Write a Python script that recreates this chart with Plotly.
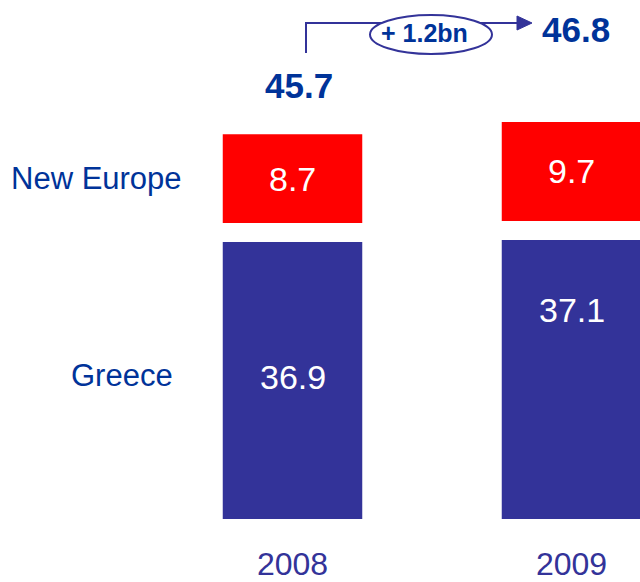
import plotly.graph_objects as go

# ---- data ----
years = ["2008", "2009"]
greece = [36.9, 37.1]
new_europe = [8.7, 9.7]
totals = [45.7, 46.8]
change_label = "+ 1.2bn"
series_names = ["Greece", "New Europe"]

# ---- style constants ----
W, H = 640, 582
PLOT_BOTTOM = 519          # pixel of plot-area bottom
Y_MIN, PX_PER_UNIT = 9.74, 10.2
Y_MAX = Y_MIN + PLOT_BOTTOM / PX_PER_UNIT
GAP = 19 / PX_PER_UNIT     # white gap between segments (data units)
BLUE = "#333399"
RED = "#FF0000"
TXT = "#003399"
FONT = "Arial, Liberation Sans, sans-serif"

X_PX0, X_PX_PER_CAT = 292.5, 279.0
x_range = [-X_PX0 / X_PX_PER_CAT, (W - X_PX0) / X_PX_PER_CAT]


def py(p):
    """pixel y -> paper y"""
    return (PLOT_BOTTOM - p) / PLOT_BOTTOM


def px(p):
    return p / W


fig = go.Figure()
fig.add_trace(go.Bar(x=years, y=greece, name=series_names[0],
                     marker=dict(color=BLUE, line=dict(width=0)), width=0.5))
fig.add_trace(go.Bar(x=years, y=new_europe, name=series_names[1],
                     base=[g + GAP for g in greece],
                     marker=dict(color=RED, line=dict(width=0)), width=0.5))

C = dict(xanchor="center", yanchor="middle", showarrow=False)
annotations = []
# value labels (x given as category index)
for i in range(len(years)):
    annotations.append(dict(x=i, xref="x", y=greece[i] + GAP + new_europe[i] / 2,
                            yref="y", text=f"{new_europe[i]}",
                            font=dict(family=FONT, size=34, color="white"), **C))
annotations.append(dict(x=0, xref="x", y=(Y_MIN + greece[0]) / 2, yref="y",
                        yshift=3, text=f"{greece[0]}",
                        font=dict(family=FONT, size=34, color="white"), **C))
annotations.append(dict(x=1, xref="x", y=greece[1], yref="y", yshift=-70,
                        text=f"{greece[1]}",
                        font=dict(family=FONT, size=34, color="white"), **C))
# series labels on the left
annotations.append(dict(x=px(9), xref="paper", xanchor="left", yanchor="middle",
                        y=greece[0] + GAP + new_europe[0] / 2, yref="y",
                        text=series_names[1], showarrow=False,
                        font=dict(family=FONT, size=31, color=TXT)))
annotations.append(dict(x=px(69), xref="paper", xanchor="left", yanchor="middle",
                        y=py(375), yref="paper",
                        text=series_names[0], showarrow=False,
                        font=dict(family=FONT, size=31, color=TXT)))
# totals
annotations.append(dict(x=0, xref="x", xshift=6, y=py(86), yref="paper",
                        text=f"<b>{totals[0]}</b>",
                        font=dict(family=FONT, size=35, color=TXT), **C))
annotations.append(dict(x=1, xref="x", xshift=4, y=py(30), yref="paper",
                        text=f"<b>{totals[1]}</b>",
                        font=dict(family=FONT, size=35, color=TXT), **C))
# change label
annotations.append(dict(x=px(424), xref="paper", y=py(33), yref="paper",
                        text=f"<b>{change_label}</b>",
                        font=dict(family=FONT, size=25, color=TXT), **C))

shapes = [
    # connector line
    dict(type="path", xref="paper", yref="paper",
         path=f"M {px(306)} {py(53)} L {px(306)} {py(23)} L {px(519)} {py(23)}",
         line=dict(color=BLUE, width=2)),
    # arrow head
    dict(type="path", xref="paper", yref="paper",
         path=f"M {px(517)} {py(16)} L {px(532)} {py(23)} L {px(517)} {py(30)} Z",
         line=dict(color=BLUE, width=1), fillcolor=BLUE),
    # ellipse
    dict(type="circle", xref="paper", yref="paper",
         x0=px(370), x1=px(492), y0=py(54), y1=py(15),
         line=dict(color=BLUE, width=2), fillcolor="white"),
]

fig.update_layout(
    width=W, height=H,
    margin=dict(l=0, r=0, t=0, b=H - PLOT_BOTTOM, autoexpand=False),
    barmode="overlay",
    showlegend=False,
    plot_bgcolor="white", paper_bgcolor="white",
    annotations=annotations, shapes=shapes,
    xaxis=dict(type="category", range=x_range, showgrid=False, zeroline=False,
               showline=False, ticks="", ticklabelstandoff=23, automargin=False,
               tickfont=dict(family=FONT, size=32, color=BLUE)),
    yaxis=dict(range=[Y_MIN, Y_MAX], visible=False, showgrid=False,
               zeroline=False, automargin=False),
)

fig.write_html("out.html",
               config={"displayModeBar": False},
               post_script="document.body.style.margin='0';"
                           "document.body.style.overflow='hidden';")
